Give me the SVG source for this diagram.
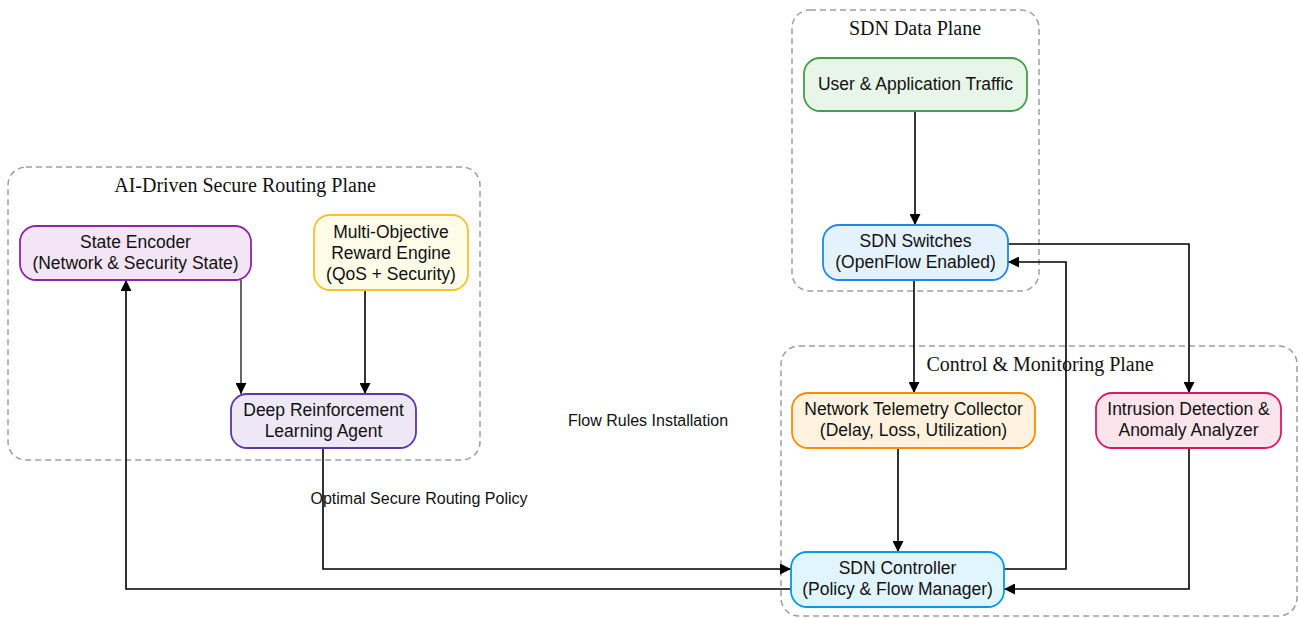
<svg xmlns="http://www.w3.org/2000/svg" width="1299" height="618" viewBox="0 0 1299 618">
<defs>
<marker id="ah" viewBox="0 0 10 10" refX="10" refY="5" markerWidth="11" markerHeight="11" markerUnits="userSpaceOnUse" orient="auto">
<path d="M0,0 L10,5 L0,10 z" fill="#000"/>
</marker>
<style>
.cl{fill:none;stroke:#9e9e9e;stroke-width:1.5;stroke-dasharray:6,4}
.ct{font-family:"Liberation Serif","Times New Roman",serif;font-size:20px;fill:#111;text-anchor:middle}
.n{stroke-width:1.8}
.t{font-family:"Liberation Sans",Arial,sans-serif;font-size:17.5px;fill:#111;text-anchor:middle}
.lb{font-family:"Liberation Sans",Arial,sans-serif;font-size:16px;fill:#111;text-anchor:middle}
.e{fill:none;stroke:#000;stroke-width:1.6;marker-end:url(#ah)}
</style>
</defs>
<rect width="1299" height="618" fill="#fff"/>
<g id="clusters">
<rect class="cl" x="8" y="167" width="472" height="293" rx="18"/>
<text class="ct" x="245" y="192">AI-Driven Secure Routing Plane</text>
<rect class="cl" x="792" y="10" width="247" height="281" rx="18"/>
<text class="ct" x="915" y="35">SDN Data Plane</text>
<rect class="cl" x="781" y="346" width="516" height="270" rx="18"/>
<text class="ct" x="1040" y="371">Control &amp; Monitoring Plane</text>
</g>
<g id="connectors">
<path class="e" d="M241,280 V394" style="stroke-width:1.2"/>
<path class="e" d="M365,290 V394"/>
<path class="e" d="M915,111 V225"/>
<path class="e" d="M914,280 V393"/>
<path class="e" d="M1008,244 H1189 V393"/>
<path class="e" d="M898,448 V552"/>
<path class="e" d="M1004,569 H1066 V262 H1008"/>
<path class="e" d="M1189,448 V589 H1004"/>
<path class="e" d="M323,448 V569 H791"/>
<path class="e" d="M791,589 H126 V280"/>
<text class="lb" x="419" y="504">Optimal Secure Routing Policy</text>
<text class="lb" x="648" y="426">Flow Rules Installation</text>
</g>
<g id="state_encoder">
<rect class="n" x="20" y="226" width="231" height="54" rx="16" fill="#f3e5f5" stroke="#8e24aa"/>
<text class="t" x="135.5" y="248">State Encoder</text>
<text class="t" x="135.5" y="269">(Network &amp; Security State)</text>
</g>
<g id="reward_engine">
<rect class="n" x="314" y="215" width="154" height="75" rx="16" fill="#fffde7" stroke="#fbc02d"/>
<text class="t" x="391" y="238">Multi-Objective</text>
<text class="t" x="391" y="259">Reward Engine</text>
<text class="t" x="391" y="280">(QoS + Security)</text>
</g>
<g id="drl_agent">
<rect class="n" x="231" y="394" width="185" height="54" rx="16" fill="#ede7f6" stroke="#5e35b1"/>
<text class="t" x="323.5" y="416">Deep Reinforcement</text>
<text class="t" x="323.5" y="437">Learning Agent</text>
</g>
<g id="user_traffic">
<rect class="n" x="804" y="58" width="223" height="53" rx="16" fill="#e8f5e9" stroke="#43a047"/>
<text class="t" x="915.5" y="90">User &amp; Application Traffic</text>
</g>
<g id="sdn_switches">
<rect class="n" x="823" y="225" width="185" height="55" rx="16" fill="#e3f2fd" stroke="#1e88e5"/>
<text class="t" x="915.5" y="247">SDN Switches</text>
<text class="t" x="915.5" y="268">(OpenFlow Enabled)</text>
</g>
<g id="telemetry">
<rect class="n" x="792" y="393" width="243" height="55" rx="16" fill="#fff3e0" stroke="#fb8c00"/>
<text class="t" x="913.5" y="415">Network Telemetry Collector</text>
<text class="t" x="913.5" y="436">(Delay, Loss, Utilization)</text>
</g>
<g id="intrusion">
<rect class="n" x="1096" y="393" width="185" height="55" rx="16" fill="#fce4ec" stroke="#d81b60"/>
<text class="t" x="1188.5" y="415">Intrusion Detection &amp;</text>
<text class="t" x="1188.5" y="436">Anomaly Analyzer</text>
</g>
<g id="sdn_controller">
<rect class="n" x="791" y="552" width="213" height="55" rx="16" fill="#e1f5fe" stroke="#039be5"/>
<text class="t" x="897.5" y="574">SDN Controller</text>
<text class="t" x="897.5" y="595">(Policy &amp; Flow Manager)</text>
</g>
</svg>
